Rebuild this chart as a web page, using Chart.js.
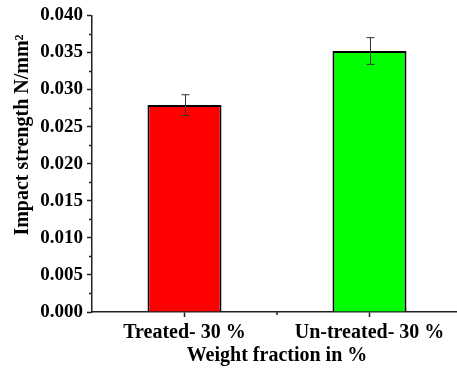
<!DOCTYPE html>
<html>
<head>
<meta charset="utf-8">
<script src="https://cdn.jsdelivr.net/npm/chart.js@4/dist/chart.umd.min.js"></script>
<style>
    html, body { margin: 0; padding: 0; background: #fff; overflow: hidden; }
    #wrap { width: 457px; height: 368px; overflow: hidden; }
    canvas { display: block; }
</style>
</head>
<body>
<div id="wrap"><canvas id="chart" width="462" height="368"></canvas></div>
<script>
const categories = ["Treated- 30 %", "Un-treated- 30 %"];
const impactStrength = [0.0279, 0.0352];
const errorValues = [0.0014, 0.0018];
const barColors = ["#ff0000", "#00ff00"];
const yTitle = "Impact strength N/mm²";
const xTitle = "Weight fraction in %";

const serif = "'Liberation Serif', 'Times New Roman', serif";
const axisColor = "#222";

// error bars, minor ticks and y title
const extras = {
    id: 'extras',
    afterDatasetsDraw(chart) {
        const ctx = chart.ctx;
        const x = chart.scales.x;
        const y = chart.scales.y;
        ctx.save();
        ctx.strokeStyle = "#333";
        ctx.lineWidth = 1;
        impactStrength.forEach((v, i) => {
            const px = Math.round(x.getPixelForValue(i)) + 0.5;
            const top = y.getPixelForValue(v + errorValues[i]);
            const bot = y.getPixelForValue(v - errorValues[i]);
            ctx.beginPath();
            ctx.moveTo(px, top); ctx.lineTo(px, bot);
            ctx.moveTo(px - 4, top); ctx.lineTo(px + 4, top);
            ctx.moveTo(px - 4, bot); ctx.lineTo(px + 4, bot);
            ctx.stroke();
        });
        ctx.restore();
    },
    afterDraw(chart) {
        const ctx = chart.ctx;
        const x = chart.scales.x;
        const y = chart.scales.y;
        const area = chart.chartArea;
        ctx.save();
        ctx.strokeStyle = axisColor;
        ctx.lineWidth = 1.5;
        ctx.beginPath();
        for (let v = 0.0025; v < 0.04; v += 0.005) {
            const py = Math.round(y.getPixelForValue(v)) + 0.5;
            ctx.moveTo(area.left, py); ctx.lineTo(area.left - 3, py);
        }
        const mid = (x.getPixelForValue(0) + x.getPixelForValue(1)) / 2;
        ctx.moveTo(mid, area.bottom); ctx.lineTo(mid, area.bottom + 3);
        ctx.stroke();

        ctx.fillStyle = "#000";
        ctx.font = "bold 20px " + serif;
        ctx.textAlign = "center";
        ctx.textBaseline = "middle";
        ctx.translate(23, 135);
        ctx.rotate(-Math.PI / 2);
        ctx.fillText(yTitle, 0, 0);
        ctx.restore();
    }
};

new Chart(document.getElementById("chart"), {
    type: 'bar',
    data: {
        labels: categories,
        datasets: [{
            data: impactStrength,
            backgroundColor: barColors,
            borderColor: "#000",
            borderWidth: 2,
            barPercentage: 0.4,
            categoryPercentage: 1.0
        }]
    },
    options: {
        responsive: false,
        animation: false,
        layout: { padding: { top: 15, left: 0, right: 0, bottom: 0 } },
        plugins: {
            legend: { display: false },
            tooltip: { enabled: false }
        },
        scales: {
            x: {
                offset: true,
                afterFit(scale) { scale.height = 56; },
                grid: {
                    offset: false,
                    drawOnChartArea: false,
                    tickLength: 5,
                    tickWidth: 1.5,
                    color: axisColor
                },
                border: { color: axisColor, width: 1.5 },
                ticks: {
                    color: "#000",
                    padding: 4,
                    font: { family: serif, size: 20, weight: 'bold' }
                },
                title: {
                    display: true,
                    text: xTitle,
                    color: "#000",
                    padding: { top: 0, bottom: 0 },
                    font: { family: serif, size: 20, weight: 'bold' }
                }
            },
            y: {
                min: 0,
                max: 0.04,
                afterFit(scale) { scale.width = 92; },
                grid: {
                    drawOnChartArea: false,
                    tickLength: 5,
                    tickWidth: 1.5,
                    color: axisColor
                },
                border: { color: axisColor, width: 1.5 },
                ticks: {
                    stepSize: 0.005,
                    color: "#000",
                    padding: 4,
                    font: { family: serif, size: 19, weight: 'bold' },
                    callback: v => v.toFixed(3)
                }
            }
        }
    },
    plugins: [extras]
});
</script>
</body>
</html>
